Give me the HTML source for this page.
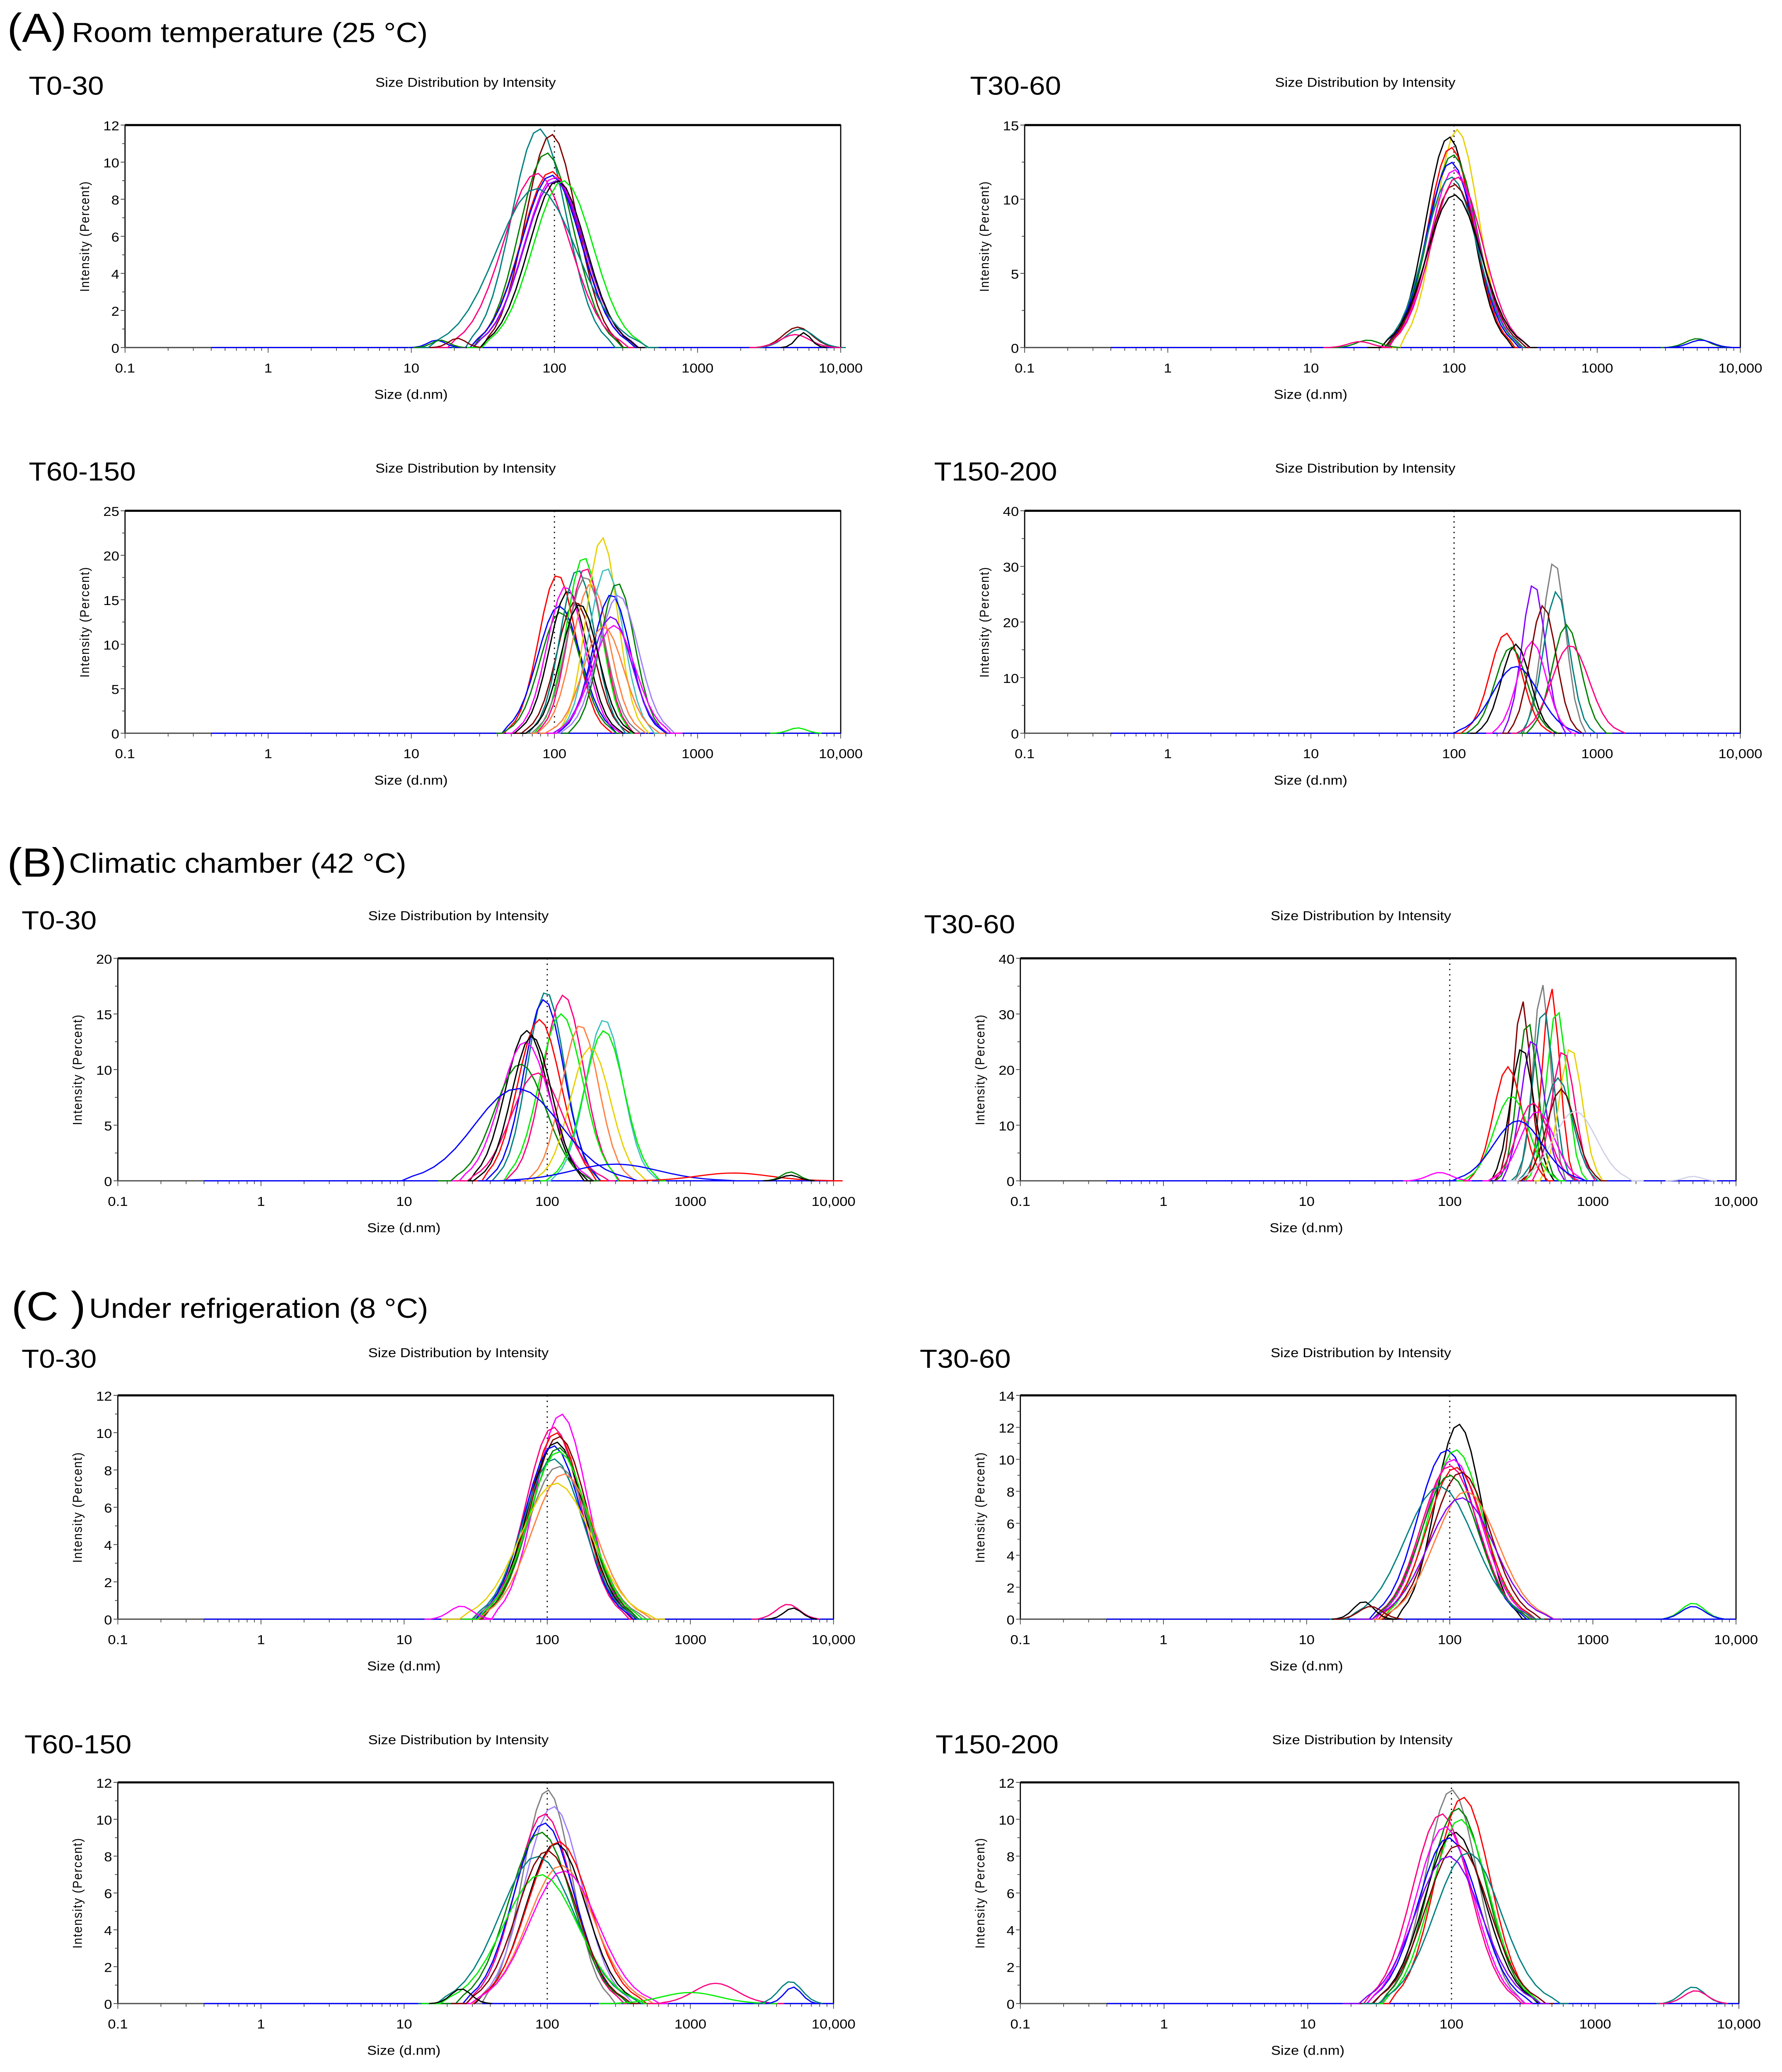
<!DOCTYPE html>
<html><head><meta charset="utf-8"><style>
html,body{margin:0;padding:0;background:#fff;width:100vw;height:100vh;overflow:hidden;}
svg{display:block;position:absolute;left:0;top:0;width:100vw;height:100vh;}
text{font-family:"Liberation Sans Narrow","Liberation Sans",sans-serif;}
</style></head><body>
<svg id="fig" viewBox="0 0 1240 1574" preserveAspectRatio="none" xmlns="http://www.w3.org/2000/svg">
<text x="5" y="32" font-size="31">(A)</text>
<text x="50" y="32" font-size="21">Room temperature (25 °C)</text>
<text x="5" y="666" font-size="31">(B)</text>
<text x="48" y="663" font-size="21">Climatic chamber (42 °C)</text>
<text x="8" y="1003" font-size="31">(C )</text>
<text x="62" y="1001" font-size="21">Under refrigeration (8 °C)</text>
</svg>
<script>
// ---- data ----
const xTickValues = [0.1, 1, 10, 100, 1000, 10000];
const xTickLabels = ["0.1", "1", "10", "100", "1000", "10,000"];
const palette = ["#000000","#ff0000","#008000","#0000ff","#ff00ff","#008080","#800000","#00ee00","#8000ff","#ff0080","#808080","#ff8040","#e8d000","#40c0c0","#a080ff","#d0d0e8"];
const panelNames = ["a-t0-30","a-t30-60","a-t60-150","a-t150-200","b-t0-30","b-t30-60","c-t0-30","c-t30-60","c-t60-150","c-t150-200"];
const panelLabels = ["T0-30","T30-60","T60-150","T150-200","T0-30","T30-60","T0-30","T30-60","T60-150","T150-200"];
const yMaxes = [12,15,25,40,20,40,12,14,12,12];
const yMajorSteps = [2,5,5,10,5,10,2,2,2,2];
// curves: [colorIndex, peakSize(nm), peakIntensity(%), logWidth]
const curvesA1 = [[5,78,11.8,0.19],[6,95,11.5,0.18],[2,88,10.5,0.19],[1,95,9.5,0.21],[9,75,9.4,0.23],[3,95,9.3,0.21],[4,100,9.2,0.21],[8,100,9.0,0.21],[0,105,9.0,0.2],[7,115,9.0,0.21],[5,75,8.6,0.28],
  [3,15,0.4,0.06],[2,16,0.4,0.06],[6,21,0.5,0.06],[6,5000,1.1,0.1],[5,5200,1.0,0.1],[9,4800,0.7,0.1],[0,5500,0.8,0.05]];
const curvesA2 = [[12,105,14.7,0.15],[0,92,14.2,0.16],[1,95,13.5,0.16],[2,98,13.0,0.17],[3,95,12.5,0.17],[4,100,12.0,0.17],[5,95,11.5,0.18],[6,100,11.0,0.18],[9,105,11.5,0.18],[0,100,10.3,0.19],
  [2,25,0.5,0.08],[9,22,0.4,0.08],[2,5000,0.6,0.08],[3,5300,0.5,0.08]];
const curvesA3 = [[1,105,17.8,0.13],[3,108,14.3,0.15],[2,110,13.6,0.14],[0,125,16.0,0.13],[4,120,16.5,0.13],[6,140,14.8,0.13],[5,145,18.4,0.12],[7,160,19.8,0.12],[9,165,18.6,0.12],[10,165,17.6,0.13],
  [11,180,16.8,0.13],[12,215,22.0,0.11],[13,230,18.6,0.12],[2,275,16.9,0.12],[3,250,15.6,0.13],[14,280,15.5,0.14],[8,250,13.1,0.14],[4,260,12.1,0.15],[11,220,12.0,0.14],[0,150,14.5,0.13],[7,5000,0.6,0.06]];
const curvesA4 = [[10,500,31.0,0.08],[8,360,27.0,0.08],[5,520,25.5,0.09],[2,610,19.5,0.1],[1,230,18.0,0.11],[0,270,16.0,0.1],[2,250,15.5,0.11],[9,650,15.8,0.13],[3,270,12.0,0.16],[4,350,16.5,0.1],[6,420,23.0,0.09]];
const curvesB1 = [[5,98,17.0,0.13],[3,95,16.3,0.14],[9,130,16.7,0.14],[7,125,15.0,0.15],[0,72,13.5,0.15],[1,88,14.5,0.15],[4,70,12.5,0.17],[2,65,10.5,0.18],[11,170,14.0,0.13],[13,250,14.5,0.13],[7,250,13.5,0.14],[12,200,12.0,0.14],[9,85,9.7,0.18],[0,78,13.0,0.14],[3,62,8.3,0.3],[3,300,1.5,0.3],
  [1,2000,0.7,0.25],[2,5000,0.8,0.06],[0,5000,0.5,0.06]];
const curvesB2 = [[10,440,35.5,0.06],[1,510,34.8,0.06],[6,320,32.5,0.06],[7,560,31.0,0.07],[5,450,31.0,0.07],[2,350,28.8,0.07],[8,380,25.5,0.08],[0,320,24.0,0.08],[12,700,24.0,0.08],[9,620,23.5,0.08],[1,255,20.5,0.1],[5,570,18.5,0.1],[6,600,16.5,0.1],[7,270,15.2,0.12],[9,380,14.0,0.11],[4,410,12.5,0.12],[15,750,12.5,0.15],[3,300,10.8,0.17],
  [4,85,1.5,0.08],[15,5000,0.8,0.06]];
const curvesC1 = [[4,125,11.0,0.18],[9,110,10.3,0.19],[1,115,10.0,0.19],[6,120,9.8,0.2],[0,115,9.5,0.2],[3,110,9.3,0.2],[2,120,9.2,0.2],[5,110,8.6,0.21],[10,120,8.2,0.22],[11,130,7.8,0.22],[12,115,7.3,0.25],[7,120,9.0,0.21],
  [4,25,0.7,0.08],[9,4800,0.8,0.08],[0,5200,0.6,0.06]];
const curvesC2 = [[0,115,12.2,0.16],[3,95,10.6,0.2],[7,110,10.6,0.19],[4,105,10.0,0.2],[9,100,9.6,0.2],[1,110,9.5,0.2],[2,100,9.0,0.2],[6,120,9.2,0.2],[5,85,8.3,0.24],[11,130,8.0,0.22],[8,120,7.6,0.23],
  [0,25,1.1,0.07],[6,28,0.8,0.08],[7,5000,1.0,0.08],[3,5000,0.8,0.08]];
const curvesC3 = [[10,100,11.6,0.17],[14,110,10.7,0.2],[9,95,10.3,0.2],[3,95,9.8,0.21],[0,115,8.7,0.21],[2,90,9.3,0.22],[1,120,8.8,0.22],[5,85,8.0,0.26],[11,125,7.5,0.23],[4,130,7.2,0.24],[7,90,7.0,0.26],[6,100,8.3,0.21],
  [9,1500,1.1,0.15],[7,1000,0.6,0.2],[5,5000,1.2,0.08],[3,5200,0.9,0.06],[0,25,0.8,0.07]];
const curvesC4 = [[10,100,11.6,0.18],[1,120,11.2,0.19],[9,85,10.3,0.2],[2,110,10.6,0.2],[7,115,10.0,0.2],[0,105,9.3,0.21],[3,95,9.0,0.21],[4,90,9.6,0.2],[6,110,8.6,0.22],[5,130,8.2,0.23],[8,95,8.0,0.23],
  [5,4800,0.9,0.08],[9,5000,0.7,0.08]];
const curveSets = [curvesA1,curvesA2,curvesA3,curvesA4,curvesB1,curvesB2,curvesC1,curvesC2,curvesC3,curvesC4];
// layout (display units)
const boxes = [[87,95,585,264],[713,95,1211,264],[87,388,585,557],[713,388,1211,557],[82,728,580,897],[710,728,1208,897],[82,1060,580,1230],[710,1060,1208,1230],[82,1354,580,1522],[710,1354,1210,1522]];
const labelPos = [[20,72],[675,72],[20,365],[650,365],[15,706],[643,709],[15,1039],[640,1039],[17,1332],[651,1332]];

const NS="http://www.w3.org/2000/svg";
const svg=document.getElementById('fig');
function mk(tag,attrs,parent){const e=document.createElementNS(NS,tag);for(const k in attrs)e.setAttribute(k,attrs[k]);(parent||svg).appendChild(e);return e;}

boxes.forEach((b,pi)=>{
  const [x0,y0,x1,y1]=b, ymax=yMaxes[pi], step=yMajorSteps[pi];
  const g=mk('g',{});
  
  
  const xs=v=>x0+(Math.log10(v)+1)/5*(x1-x0);
  const ys=v=>y1-v/ymax*(y1-y0);
  const lab=mk('text',{x:labelPos[pi][0],y:labelPos[pi][1],'font-size':20},g);lab.textContent=panelLabels[pi];
  
  
  const tt=mk('text',{x:(x0+x1)/2-12,y:y0-29,'font-size':10,'text-anchor':'middle'},g);tt.textContent='Size Distribution by Intensity';
  
  
  const rect=mk('rect',{x:x0,y:y0,width:x1-x0,height:y1-y0,fill:'none',stroke:'#000','stroke-width':0.8},g);
  
  
  mk('line',{x1:x0,y1:y0,x2:x1,y2:y0,stroke:'#000','stroke-width':1.6},g);
  mk('line',{x1:x0,y1:y1,x2:x1,y2:y1,stroke:'#555','stroke-width':1},g);
  for(let v=0;v<=ymax+1e-9;v+=step/2){
    const isMaj=Math.abs(v/step-Math.round(v/step))<1e-6;
    mk('line',{x1:x0-(isMaj?3:2),y1:ys(v),x2:x0,y2:ys(v),stroke:'#444','stroke-width':0.6},g);
    if(isMaj){const t=mk('text',{x:x0-4,y:ys(v)+4,'font-size':10,'text-anchor':'end'},g);t.textContent=Math.round(v);
      
      }
  }
  for(let d=-1;d<4;d++){for(let m=1;m<10;m++){const v=m*Math.pow(10,d);const X=xs(v);
    mk('line',{x1:X,y1:y1,x2:X,y2:y1+(m===1?4:2.5),stroke:'#444','stroke-width':0.5},g);}}
  mk('line',{x1:x1,y1:y1,x2:x1,y2:y1+4,stroke:'#444','stroke-width':0.5},g);
  xTickValues.forEach((v,i)=>{const t=mk('text',{x:xs(v),y:y1+19,'font-size':10,'text-anchor':'middle'},g);t.textContent=xTickLabels[i];
    
    });
  const xt=mk('text',{x:(x0+x1)/2-50,y:y1+39,'font-size':10,'text-anchor':'middle'},g);xt.textContent='Size (d.nm)';
  
  
  const yt=mk('text',{x:0,y:0,'font-size':9,'text-anchor':'middle','letter-spacing':'0.6',transform:`translate(${x0-25},${(y0+y1)/2}) rotate(-90)`},g);yt.textContent='Intensity (Percent)';
  
  
  mk('line',{x1:xs(100),y1:y0,x2:xs(100),y2:y1,stroke:'#000','stroke-width':0.8,'stroke-dasharray':'1,3'},g);
  mk('line',{x1:xs(0.4),y1:y1,x2:x1,y2:y1,stroke:palette[3],'stroke-width':0.9},g);
  curveSets[pi].forEach((c,ci)=>{
    const [col,ctr,h,w]=c;let pts=[];
    const lc=Math.log10(ctr);
    for(let lx=lc-3.2*w;lx<=lc+3.2*w+1e-9;lx+=Math.max(0.04,w/4)){
      let y=h*Math.exp(-0.5*Math.pow((lx-lc)/w,2));if(y<0.03*h)y=0;
      pts.push(xs(Math.pow(10,lx)).toFixed(2)+','+ys(y).toFixed(2));}
    const p=mk('polyline',{points:pts.join(' '),fill:'none',stroke:palette[col],'stroke-width':0.9},g);
    
    
  });
});
</script>
</body></html>
